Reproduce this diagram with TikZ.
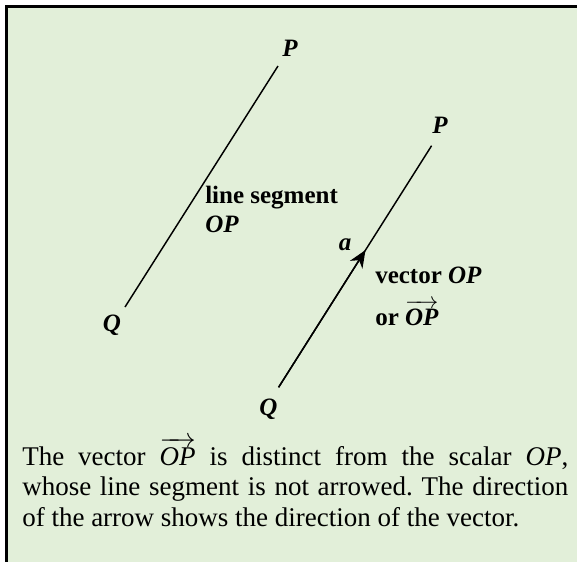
\documentclass[tikz,border=0pt]{standalone}
\usepackage{amsmath}
\usepackage{fontspec}
\setmainfont{Liberation Serif}
\usetikzlibrary{arrows.meta, calc}
\definecolor{panel}{HTML}{E2EFD9}
\frenchspacing
\tikzset{
    lbl/.style={inner sep=0pt, font=\fontsize{18.75}{22}\selectfont\bfseries},
    pt/.style={inner sep=0pt, font=\fontsize{18.75}{22}\selectfont\bfseries\itshape},
    seg/.style={line width=1.1pt},
    vec/.style={line width=1.1pt, -{Stealth[length=13pt, width=11pt, inset=4pt]}}
}

\begin{document}
\begin{tikzpicture}[x=0.75pt, y=-0.75pt]
        \useasboundingbox (0,0) rectangle (577,561);
        \clip (0,0) rectangle (577,561);
        % panel, cut off at right and bottom
        \fill [panel] (6.3,6.3) rectangle (600,600);
        \draw [line width=1.9pt] (6.3,600) -- (6.3,6.3) -- (600,6.3);

        % line segment OP
        \coordinate (p1) at (278,66);
        \coordinate (q1) at (125,307);
        \node [pt, anchor=base] (P1) at (290,56) {P};
        \node [pt, anchor=base] (Q1) at (112,331) {Q};
        \draw [seg] (q1) -- (p1);
        \node [lbl, anchor=base west] (seglbl) at (205,203) {line segment};
        \node [pt, anchor=base west] (seglbl2) at (205,232) {OP};

        % vector OP
        \coordinate (p2) at (431.6,145.7);
        \coordinate (q2) at (278.6,387.3);
        \coordinate (tip) at ($(q2)!0.568!(p2)$);
        \node [pt, anchor=base] (P2) at (440,133) {P};
        \node [pt, anchor=base] (Q2) at (268.5,415) {Q};
        \draw [seg] (q2) -- (p2);
        \draw [vec] (q2) -- (tip);
        \node [pt, anchor=base] (alpha) at (345,250) {a};
        \node [lbl, anchor=base west] (veclbl) at (375,283) {vector \textit{OP}};
        \node [lbl, anchor=base west] (veclbl2) at (375,325) {or $\overrightarrow{\text{\itshape OP}}$};

        % note below
        \node [anchor=base west, inner sep=0pt, text width=409.5pt, align=justify,
               font=\fontsize{20.25}{22.9}\selectfont] (note) at (22,465)
            {The vector $\overrightarrow{\text{\itshape OP}}$ is distinct from the scalar \textit{OP},\linebreak whose line segment is not arrowed. The direction of the arrow shows the direction of the vector.};
    \end{tikzpicture}
\end{document}
